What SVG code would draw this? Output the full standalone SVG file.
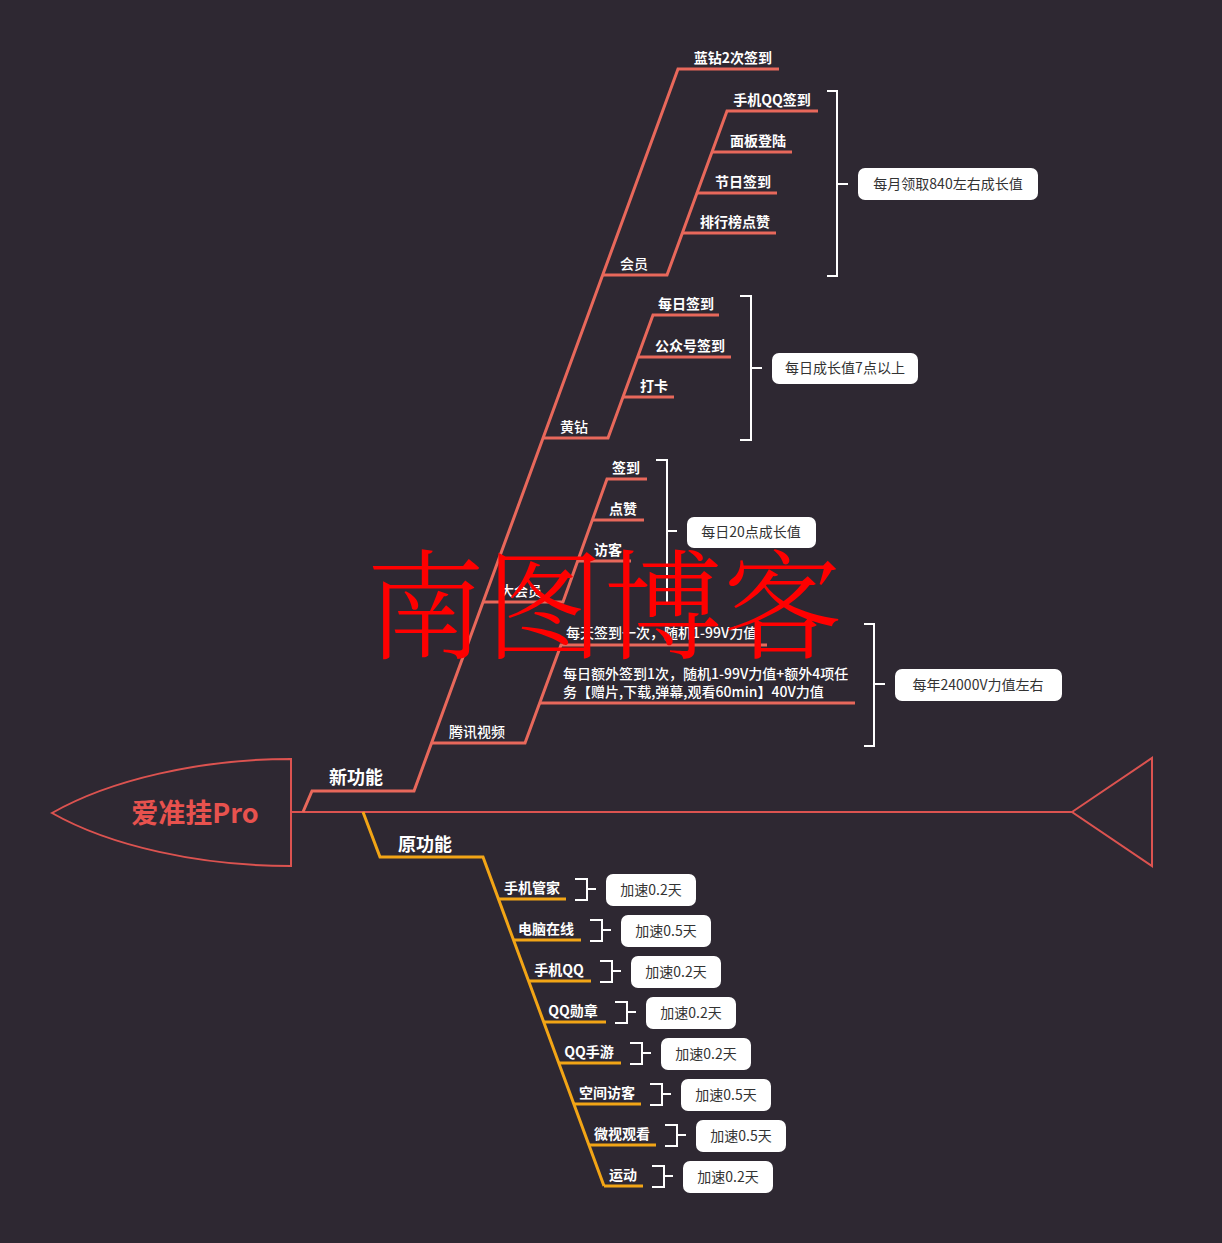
<svg xmlns="http://www.w3.org/2000/svg" width="1222" height="1243" viewBox="0 0 1222 1243">
<style>
.bg{fill:#2e2832}
.br{fill:none;stroke:#e8685b;stroke-width:3;stroke-linejoin:miter}
.yl{fill:none;stroke:#f2a516;stroke-width:3}
.sp{fill:none;stroke:#dc5350;stroke-width:2}
.bk{fill:none;stroke:#ffffff;stroke-width:2}
.lb{font-family:"Noto Sans CJK SC","Noto Sans",sans-serif;font-size:14px;font-weight:bold;fill:#ffffff}
.lbn{font-family:"Noto Sans CJK SC","Noto Sans",sans-serif;font-size:14px;font-weight:500;fill:#ffffff}
.mid{text-anchor:middle}
.big{font-family:"Noto Sans CJK SC","Noto Sans",sans-serif;font-size:18px;font-weight:bold;fill:#ffffff;text-anchor:middle}
.box{fill:#ffffff}
.bt{font-family:"Noto Sans CJK SC","Noto Sans",sans-serif;font-size:14px;fill:#333333;text-anchor:middle}
.wm{font-family:"Noto Serif CJK SC","Source Han Serif SC","Noto Sans CJK SC",serif;font-size:119px;font-weight:300;fill:#ff0000}
</style>
<rect class="bg" x="0" y="0" width="1222" height="1243"/>

<g id="connectors">
  <path class="sp" d="M291,812 H1072"/>
  <polyline class="br" points="303,812 312,791 414,791 678,69 779,69"/>
  <polyline class="br" points="603,275 667,275 727,111 818,111"/>
  <polyline class="br" points="712,152 792,152"/>
  <polyline class="br" points="697,193 777,193"/>
  <polyline class="br" points="682,233 776,233"/>
  <polyline class="br" points="543,438 608,438 653,315 719,315"/>
  <polyline class="br" points="638,357 731,357"/>
  <polyline class="br" points="623,397 674,397"/>
  <polyline class="br" points="483,602 563,602 607,479 647,479"/>
  <polyline class="br" points="592,520 644,520"/>
  <polyline class="br" points="578,561 631,561"/>
  <polyline class="br" points="432,743 525,743 561,645 767,645"/>
  <polyline class="br" points="540,703 855,703"/>
  <polyline class="yl" points="363,812 380,857 483,857 604,1186"/>
  <polyline class="yl" points="499,899 566,899"/>
  <polyline class="yl" points="514,940 581,940"/>
  <polyline class="yl" points="529,981 591,981"/>
  <polyline class="yl" points="544,1022 606,1022"/>
  <polyline class="yl" points="559,1063 621,1063"/>
  <polyline class="yl" points="574,1104 641,1104"/>
  <polyline class="yl" points="589,1145 656,1145"/>
  <polyline class="yl" points="604,1186 643,1186"/>
  <path class="bk" d="M827,91 H837 V276 H827 M837,184 H848"/>
  <path class="bk" d="M740,296 H751 V440 H740 M751,368 H762"/>
  <path class="bk" d="M656,460 H667 V604 H656 M667,531 H677"/>
  <path class="bk" d="M864,624 H874 V746 H864 M874,684 H885"/>
  <path class="bk" d="M575,879 H587 V900 H575 M587,889 H596"/>
  <path class="bk" d="M590,920 H602 V941 H590 M602,930 H611"/>
  <path class="bk" d="M600,961 H612 V982 H600 M612,971 H621"/>
  <path class="bk" d="M615,1002 H627 V1023 H615 M627,1012 H636"/>
  <path class="bk" d="M630,1043 H642 V1064 H630 M642,1053 H651"/>
  <path class="bk" d="M650,1084 H662 V1105 H650 M662,1094 H671"/>
  <path class="bk" d="M665,1125 H677 V1146 H665 M677,1135 H686"/>
  <path class="bk" d="M652,1166 H664 V1187 H652 M664,1176 H673"/>
</g>

<g id="head">
  <path class="sp" d="M291,759 C200,759 110,780 52,813 C110,846 200,866 291,866 Z"/>
  <text x="195" y="823" font-family="Noto Sans CJK SC,Noto Sans,sans-serif" font-size="27" font-weight="bold" fill="#e8524e" text-anchor="middle">爱准挂Pro</text>
</g>
<g id="tail">
  <path class="sp" d="M1072,812 L1152,758 V866 Z"/>
</g>

<g id="n-new"><text class="big" x="356" y="784">新功能</text></g>
<g id="n-old"><text class="big" x="425" y="851">原功能</text></g>

<g id="n-lanzuan"><text class="lb mid" x="733" y="63">蓝钻2次签到</text></g>
<g id="n-huiyuan"><text class="lbn mid" x="634" y="269">会员</text></g>
<g id="n-sjqq"><text class="lb mid" x="772" y="105">手机QQ签到</text></g>
<g id="n-mianban"><text class="lb mid" x="758" y="146">面板登陆</text></g>
<g id="n-jieri"><text class="lb mid" x="743" y="187">节日签到</text></g>
<g id="n-paihang"><text class="lb mid" x="735" y="227">排行榜点赞</text></g>
<g id="s-huiyuan"><rect class="box" x="858" y="168" width="180" height="32" rx="7"/><text class="bt" x="948" y="189">每月领取840左右成长值</text></g>

<g id="n-huangzuan"><text class="lbn mid" x="574" y="432">黄钻</text></g>
<g id="n-meiri"><text class="lb mid" x="686" y="309">每日签到</text></g>
<g id="n-gzh"><text class="lb mid" x="690" y="351">公众号签到</text></g>
<g id="n-daka"><text class="lb mid" x="654" y="391">打卡</text></g>
<g id="s-huangzuan"><rect class="box" x="772" y="353" width="146" height="31" rx="7"/><text class="bt" x="845" y="373">每日成长值7点以上</text></g>

<g id="n-dahuiyuan"><text class="lbn mid" x="521" y="596">大会员</text></g>
<g id="n-qiandao"><text class="lb mid" x="626" y="473">签到</text></g>
<g id="n-dianzan"><text class="lb mid" x="623" y="514">点赞</text></g>
<g id="n-fangke"><text class="lb mid" x="608" y="555">访客</text></g>
<g id="s-dahuiyuan"><rect class="box" x="687" y="517" width="129" height="31" rx="7"/><text class="bt" x="751" y="537">每日20点成长值</text></g>

<g id="n-tengxun"><text class="lbn mid" x="477" y="737">腾讯视频</text></g>
<g id="n-meitian"><text class="lbn" x="566" y="638">每天签到一次，随机1-99V力值</text></g>
<g id="n-ewai"><text class="lbn" x="563" y="679">每日额外签到1次，随机1-99V力值+额外4项任</text><text class="lbn" x="563" y="697">务【赠片,下载,弹幕,观看60min】40V力值</text></g>
<g id="s-tengxun"><rect class="box" x="895" y="669" width="167" height="32" rx="7"/><text class="bt" x="978" y="690">每年24000V力值左右</text></g>

<g id="o1"><text class="lb mid" x="532" y="893">手机管家</text><rect class="box" x="606" y="874" width="90" height="32" rx="7"/><text class="bt" x="651" y="895">加速0.2天</text></g>
<g id="o2"><text class="lb mid" x="546" y="934">电脑在线</text><rect class="box" x="621" y="915" width="90" height="32" rx="7"/><text class="bt" x="666" y="936">加速0.5天</text></g>
<g id="o3"><text class="lb mid" x="559" y="975">手机QQ</text><rect class="box" x="631" y="956" width="90" height="32" rx="7"/><text class="bt" x="676" y="977">加速0.2天</text></g>
<g id="o4"><text class="lb mid" x="573" y="1016">QQ勋章</text><rect class="box" x="646" y="997" width="90" height="32" rx="7"/><text class="bt" x="691" y="1018">加速0.2天</text></g>
<g id="o5"><text class="lb mid" x="589" y="1057">QQ手游</text><rect class="box" x="661" y="1038" width="90" height="32" rx="7"/><text class="bt" x="706" y="1059">加速0.2天</text></g>
<g id="o6"><text class="lb mid" x="607" y="1098">空间访客</text><rect class="box" x="681" y="1079" width="90" height="32" rx="7"/><text class="bt" x="726" y="1100">加速0.5天</text></g>
<g id="o7"><text class="lb mid" x="622" y="1139">微视观看</text><rect class="box" x="696" y="1120" width="90" height="32" rx="7"/><text class="bt" x="741" y="1141">加速0.5天</text></g>
<g id="o8"><text class="lb mid" x="623" y="1180">运动</text><rect class="box" x="683" y="1161" width="90" height="32" rx="7"/><text class="bt" x="728" y="1182">加速0.2天</text></g>

<text class="wm" x="366" y="650">南图博客</text>
</svg>
